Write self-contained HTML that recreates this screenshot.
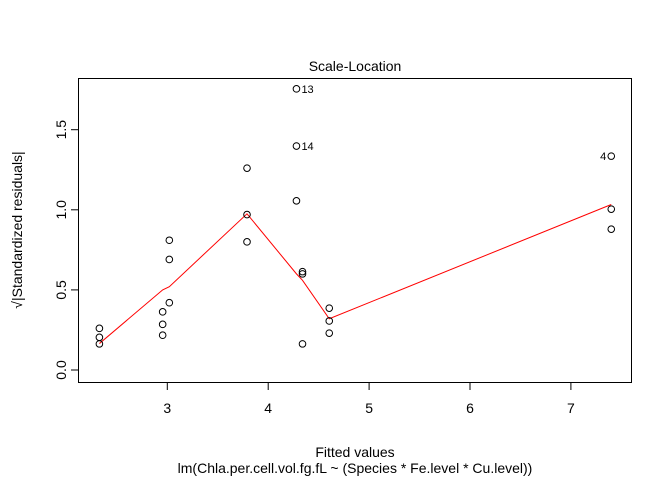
<!DOCTYPE html>
<html><head><meta charset="utf-8"><style>
body{margin:0;background:#fff}
svg text{font-family:"Liberation Sans",Arial,sans-serif;fill:#000}
</style></head><body>
<svg width="672" height="480" viewBox="0 0 672 480">
<rect x="0" y="0" width="672" height="480" fill="#fff"/>
<rect x="78.5" y="78.5" width="553" height="304" fill="none" stroke="#000" stroke-width="1"/>
<text x="355" y="71" font-size="14" text-anchor="middle">Scale-Location</text>
<text x="355" y="457" font-size="14" text-anchor="middle">Fitted values</text>
<text x="355" y="473" font-size="14" text-anchor="middle">lm(Chla.per.cell.vol.fg.fL ~ (Species * Fe.level * Cu.level))</text>
<text transform="translate(22,230) rotate(-90)" font-size="14" text-anchor="middle">√|Standardized residuals|</text>
<g id="axes"></g>
<g id="marks"></g>
</svg>
<script>
const xTicks=[3,4,5,6,7];
const yTicks=[0.0,0.5,1.0,1.5];
const yTickLabels=["0.0","0.5","1.0","1.5"];
const fittedX=[2.327,2.327,2.327,2.954,2.954,2.954,3.02,3.02,3.02,3.79,3.79,3.79,4.28,4.28,4.28,4.34,4.34,4.34,4.605,4.605,4.605,7.40,7.40,7.40];
const residY=[0.26,0.204,0.163,0.363,0.285,0.217,0.81,0.69,0.42,1.26,0.97,0.80,1.755,1.398,1.056,0.614,0.60,0.163,0.386,0.306,0.23,1.335,1.004,0.879];
const pointLabels=["","","","","","","","","","","","","13","14","","","","","","","","4","",""];
const smoothX=[2.327,2.954,3.02,3.79,4.28,4.34,4.605,7.40];
const smoothY=[0.165,0.50,0.52,0.975,0.60,0.56,0.32,1.033];
const sx=v=>167.3+(v-3)*100.9;
const sy=v=>370-160.2*v;
const NS="http://www.w3.org/2000/svg";
const axes=document.getElementById('axes'),marks=document.getElementById('marks');
function mk(tag,attrs,parent){const e=document.createElementNS(NS,tag);for(const k in attrs)e.setAttribute(k,attrs[k]);parent.appendChild(e);return e;}
xTicks.forEach(t=>{
 const l=mk('line',{x1:sx(t),x2:sx(t),y1:383,y2:390,stroke:'#000'},axes);
 
 
 const tx=mk('text',{x:sx(t),y:413,'font-size':14,'text-anchor':'middle'},axes);
 tx.textContent=String(t);
 
 
});
yTicks.forEach((t,i)=>{
 const l=mk('line',{x1:71,x2:78,y1:sy(t),y2:sy(t),stroke:'#000'},axes);
 
 
 const tx=mk('text',{transform:`translate(66,${sy(t)}) rotate(-90)`,'font-size':14,'text-anchor':'middle'},axes);
 tx.textContent=yTickLabels[i];
 
 
});
const pl=mk('polyline',{points:smoothX.map((x,i)=>sx(x)+','+sy(smoothY[i])).join(' '),fill:'none',stroke:'#f00','stroke-width':1},marks);


fittedX.forEach((x,i)=>{
 const c=mk('circle',{cx:sx(x),cy:sy(residY[i]),r:3.3,fill:'none',stroke:'#000','stroke-width':1},marks);
 
 
 if(pointLabels[i]){
  const left=x>7;
  const tx=mk('text',{x:sx(x)+(left?-5:5),y:sy(residY[i])+4,'font-size':11,'text-anchor':left?'end':'start'},marks);
  tx.textContent=pointLabels[i];
  
  
 }
});
</script>
</body></html>
